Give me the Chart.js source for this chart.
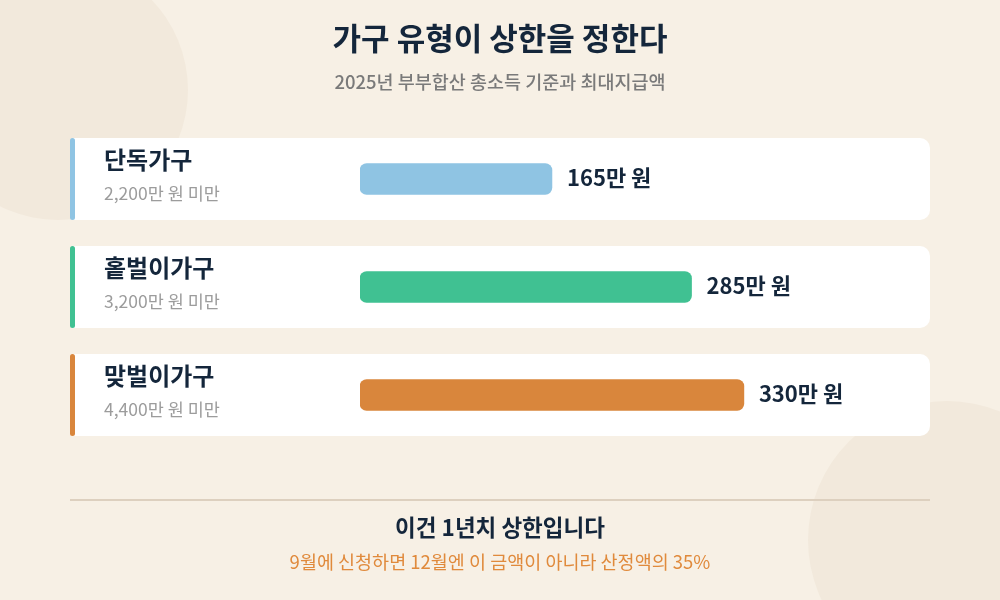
<!DOCTYPE html>
<html lang="ko">
<head>
<meta charset="utf-8">
<script src="https://cdn.jsdelivr.net/npm/chart.js@4"></script>
<style>
  html, body { margin: 0; padding: 0; background: #f7f0e5; }
  #wrap { width: 1000px; height: 600px; }
</style>
</head>
<body>
<div id="wrap"><canvas id="capChart" width="1000" height="600"></canvas></div>
<script>
// 데이터
const categories = ['단독가구', '홑벌이가구', '맞벌이가구'];
const incomeLimits = ['2,200만 원 미만', '3,200만 원 미만', '4,400만 원 미만'];
const maxAmounts = [165, 285, 330];
const barColors = ['#8fc4e3', '#40c192', '#d9863c'];

const FONT = '"Noto Sans CJK KR", "Noto Sans", sans-serif';
const NAVY = '#14263b';

// 배경, 카드, 텍스트 그리기
const decorPlugin = {
  id: 'decor',
  beforeDraw(chart) {
    const ctx = chart.ctx;
    ctx.save();
    ctx.fillStyle = '#f7f0e5';
    ctx.fillRect(0, 0, chart.width, chart.height);
    ctx.fillStyle = '#f2e9dc';
    ctx.beginPath();
    ctx.arc(58, 90, 130, 0, Math.PI * 2);
    ctx.fill();
    ctx.beginPath();
    ctx.arc(947, 540, 139, 0, Math.PI * 2);
    ctx.fill();

    // 카드
    const y = chart.scales.y;
    categories.forEach((c, i) => {
      const cy = y.getPixelForValue(i);
      const top = cy - 41;
      ctx.fillStyle = '#ffffff';
      ctx.beginPath();
      ctx.roundRect(72, top, 858, 82, [0, 10, 10, 0]);
      ctx.fill();
      ctx.fillStyle = barColors[i];
      ctx.beginPath();
      ctx.roundRect(70, top, 5, 82, 3);
      ctx.fill();
    });

    // 제목
    ctx.textAlign = 'center';
    ctx.textBaseline = 'middle';
    ctx.fillStyle = NAVY;
    ctx.font = '700 31px ' + FONT;
    ctx.fillText('가구 유형이 상한을 정한다', 500, 38);
    ctx.fillStyle = '#7a7a7a';
    ctx.font = '500 18.5px ' + FONT;
    ctx.fillText('2025년 부부합산 총소득 기준과 최대지급액', 500, 82);

    // 하단
    ctx.strokeStyle = '#ddd0bf';
    ctx.lineWidth = 2;
    ctx.beginPath();
    ctx.moveTo(70, 500);
    ctx.lineTo(930, 500);
    ctx.stroke();
    ctx.fillStyle = NAVY;
    ctx.font = '700 22.5px ' + FONT;
    ctx.fillText('이건 1년치 상한입니다', 500, 527);
    ctx.fillStyle = '#e08a3c';
    ctx.font = '400 18.5px ' + FONT;
    ctx.fillText('9월에 신청하면 12월엔 이 금액이 아니라 산정액의 35%', 500, 562);
    ctx.restore();
  },
  afterDatasetsDraw(chart) {
    const ctx = chart.ctx;
    const y = chart.scales.y;
    const meta = chart.getDatasetMeta(0);
    ctx.save();
    ctx.textBaseline = 'middle';
    categories.forEach((c, i) => {
      const cy = y.getPixelForValue(i);
      ctx.textAlign = 'left';
      ctx.fillStyle = NAVY;
      ctx.font = '700 24px ' + FONT;
      ctx.fillText(c, 104, cy - 19);
      ctx.fillStyle = '#9c9c9c';
      ctx.font = '400 17.5px ' + FONT;
      ctx.fillText(incomeLimits[i], 104, cy + 14);
      const bar = meta.data[i];
      ctx.fillStyle = NAVY;
      ctx.font = '700 22px ' + FONT;
      ctx.fillText(maxAmounts[i] + '만 원', bar.x + 15, cy - 1);
    });
    ctx.restore();
  }
};

new Chart(document.getElementById('capChart'), {
  type: 'bar',
  data: {
    labels: categories,
    datasets: [{
      data: maxAmounts,
      backgroundColor: barColors,
      borderRadius: 7,
      borderSkipped: false,
      barThickness: 31
    }]
  },
  options: {
    indexAxis: 'y',
    responsive: false,
    animation: false,
    layout: { padding: { left: 360, right: 70, top: 125, bottom: 151 } },
    scales: {
      x: { display: false, min: 0, max: 490 },
      y: { display: false }
    },
    plugins: {
      legend: { display: false },
      tooltip: { enabled: false }
    }
  },
  plugins: [decorPlugin]
});
</script>
</body>
</html>
